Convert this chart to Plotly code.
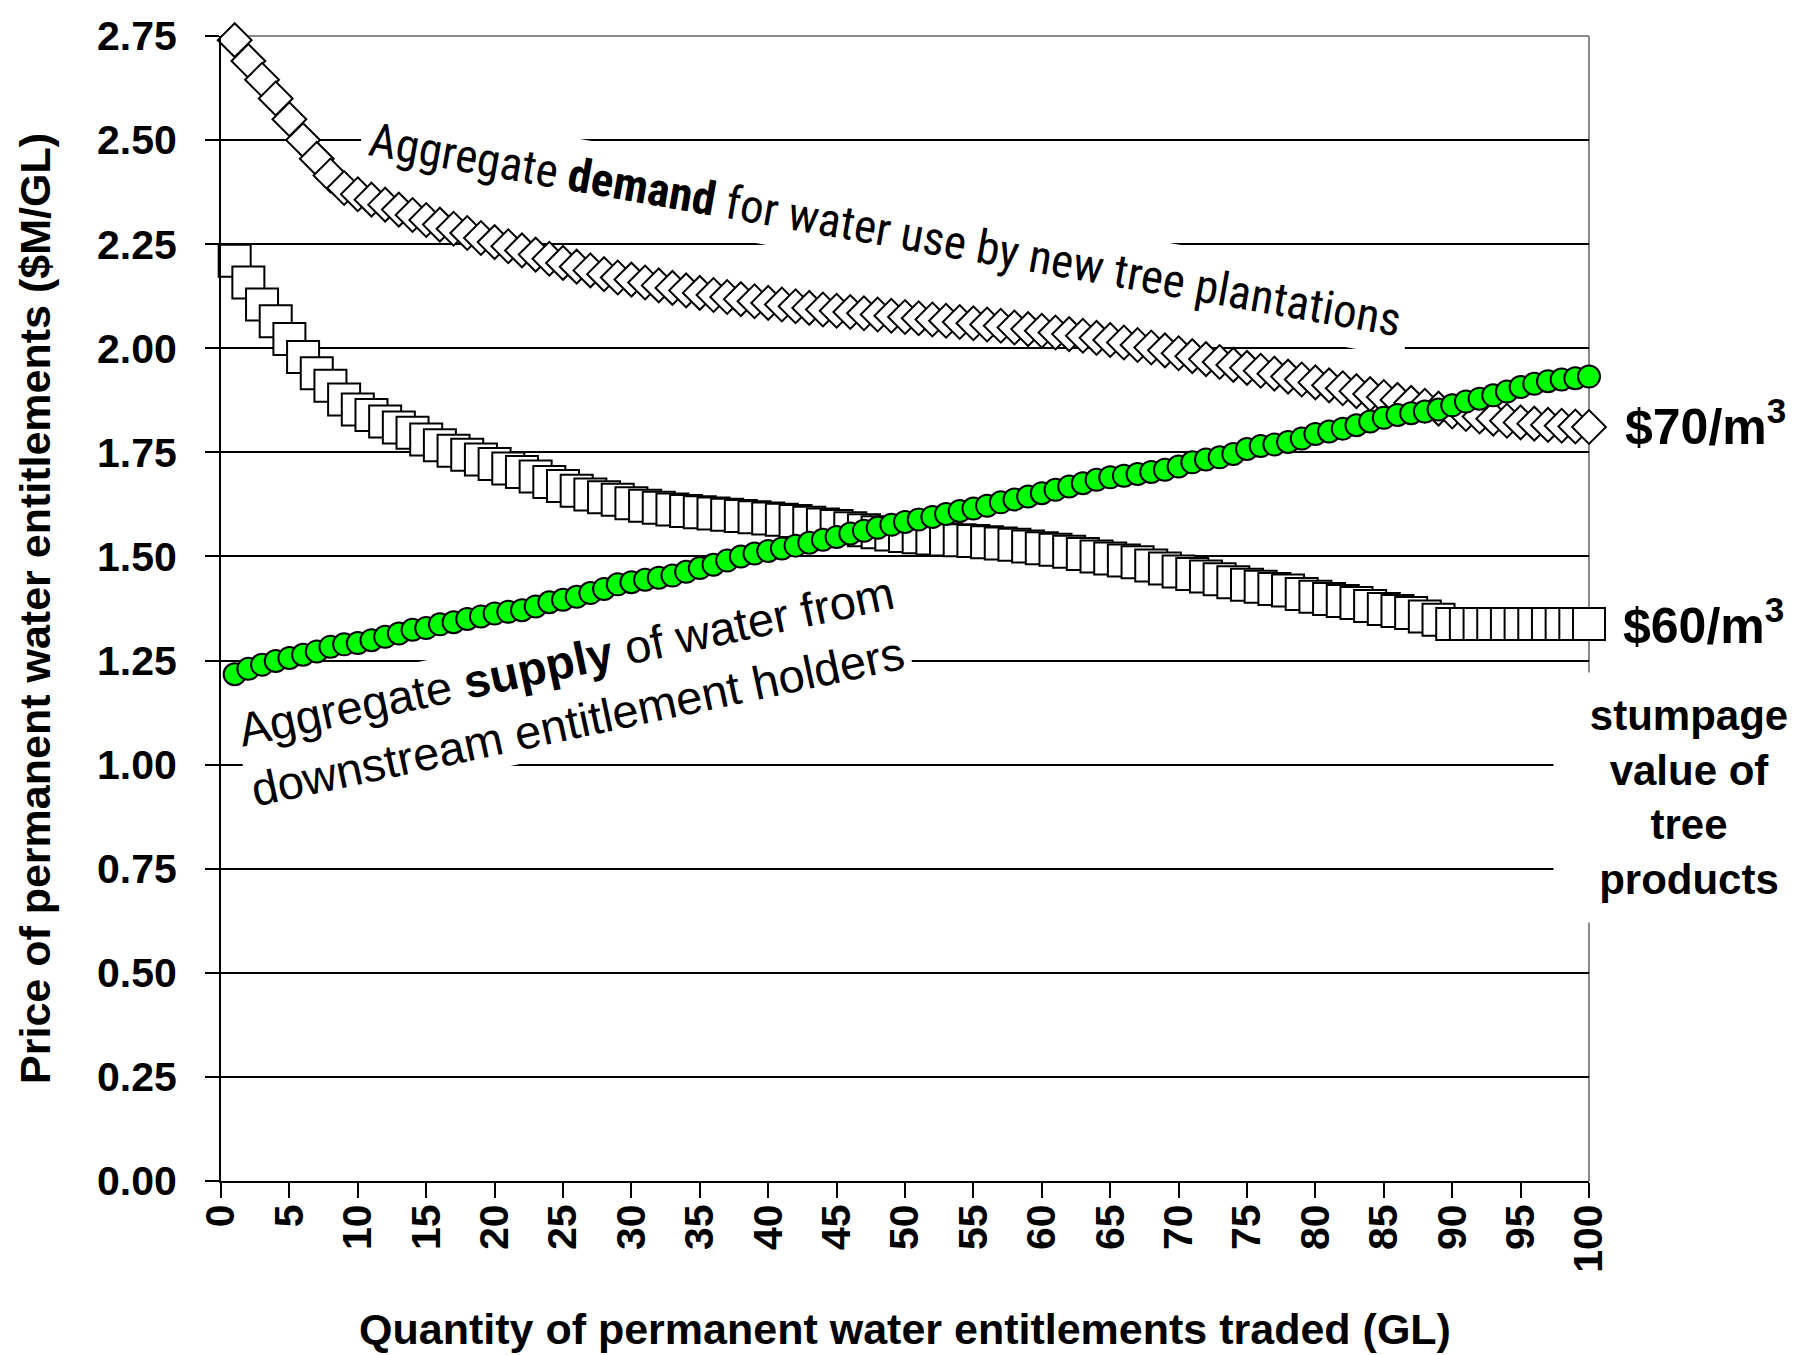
import plotly.graph_objects as go

quantity = list(range(1, 101))

demand_70 = [2.74, 2.69, 2.645, 2.60, 2.55, 2.50, 2.455, 2.415, 2.385, 2.37,
             2.357, 2.345, 2.333, 2.32, 2.308, 2.297, 2.287, 2.277, 2.265, 2.255,
             2.245, 2.235, 2.225, 2.215, 2.205, 2.196, 2.187, 2.178, 2.17, 2.165,
             2.158, 2.151, 2.145, 2.139, 2.133, 2.128, 2.123, 2.118, 2.113, 2.109,
             2.105, 2.101, 2.097, 2.093, 2.09, 2.087, 2.084, 2.081, 2.078, 2.075,
             2.072, 2.069, 2.066, 2.063, 2.06, 2.057, 2.054, 2.05, 2.046, 2.042,
             2.038, 2.034, 2.03, 2.025, 2.02, 2.014, 2.008, 2.002, 1.995, 1.988,
             1.981, 1.974, 1.967, 1.96, 1.953, 1.946, 1.939, 1.932, 1.925, 1.918,
             1.911, 1.904, 1.897, 1.89, 1.883, 1.876, 1.869, 1.862, 1.855, 1.848,
             1.842, 1.836, 1.831, 1.826, 1.822, 1.819, 1.816, 1.814, 1.812, 1.811]

demand_60 = [2.21, 2.158, 2.105, 2.065, 2.022, 1.979, 1.94, 1.91, 1.877, 1.853,
             1.84, 1.824, 1.81, 1.797, 1.781, 1.767, 1.754, 1.744, 1.733, 1.722,
             1.711, 1.703, 1.692, 1.679, 1.669, 1.658, 1.649, 1.642, 1.636, 1.628,
             1.622, 1.617, 1.613, 1.609, 1.606, 1.603, 1.6, 1.597, 1.594, 1.591,
             1.588, 1.585, 1.581, 1.577, 1.573, 1.568, 1.563, 1.558, 1.553, 1.549,
             1.546, 1.543, 1.541, 1.539, 1.537, 1.534, 1.531, 1.528, 1.524, 1.52,
             1.516, 1.511, 1.506, 1.5, 1.495, 1.49, 1.486, 1.478, 1.471, 1.464,
             1.458, 1.452, 1.445, 1.438, 1.432, 1.427, 1.422, 1.418, 1.41, 1.403,
             1.398, 1.393, 1.388, 1.381, 1.374, 1.369, 1.364, 1.356, 1.348, 1.338,
             1.338, 1.338, 1.338, 1.338, 1.338, 1.338, 1.338, 1.338, 1.338, 1.338]

supply = [1.217, 1.23, 1.24, 1.249, 1.256, 1.264, 1.272, 1.283, 1.289, 1.292,
          1.299, 1.307, 1.315, 1.324, 1.328, 1.337, 1.342, 1.35, 1.356, 1.363,
          1.367, 1.371, 1.38, 1.39, 1.396, 1.403, 1.412, 1.422, 1.433, 1.438,
          1.444, 1.449, 1.454, 1.463, 1.472, 1.48, 1.49, 1.5, 1.507, 1.513,
          1.519, 1.526, 1.533, 1.54, 1.547, 1.555, 1.562, 1.569, 1.576, 1.583,
          1.589, 1.595, 1.602, 1.609, 1.615, 1.622, 1.63, 1.637, 1.644, 1.652,
          1.66, 1.668, 1.676, 1.684, 1.69, 1.694, 1.698, 1.703, 1.708, 1.716,
          1.726, 1.733, 1.738, 1.746, 1.758, 1.765, 1.769, 1.775, 1.783, 1.794,
          1.8, 1.807, 1.815, 1.824, 1.833, 1.84, 1.844, 1.848, 1.853, 1.863,
          1.872, 1.879, 1.887, 1.896, 1.907, 1.915, 1.921, 1.925, 1.928, 1.932]

x_ticks = list(range(0, 101, 5))
y_ticks = [0, 0.25, 0.5, 0.75, 1.0, 1.25, 1.5, 1.75, 2.0, 2.25, 2.5, 2.75]

FONT = "Liberation Sans, Arial, sans-serif"
NARROW = "Roboto Condensed, Liberation Sans Narrow, Arial Narrow, Liberation Sans, sans-serif"

fig = go.Figure()
fig.add_trace(go.Scatter(x=quantity, y=demand_70, mode="markers", cliponaxis=False,
                         marker=dict(symbol="diamond", size=26, color="white",
                                     line=dict(color="black", width=2)),
                         showlegend=False))
fig.add_trace(go.Scatter(x=quantity, y=demand_60, mode="markers", cliponaxis=False,
                         marker=dict(symbol="square", size=32, color="white",
                                     line=dict(color="black", width=2)),
                         showlegend=False))
fig.add_trace(go.Scatter(x=quantity, y=supply, mode="markers", cliponaxis=False,
                         marker=dict(symbol="circle", size=22, color="#00ff00",
                                     line=dict(color="black", width=2)),
                         showlegend=False))

fig.update_layout(
    width=1806, height=1355,
    margin=dict(l=213, r=225, t=28, b=182, autoexpand=False),
    plot_bgcolor="white", paper_bgcolor="white",
    font=dict(family=FONT, color="black"),
    xaxis=dict(range=[0, 100], tickvals=x_ticks, ticks="outside", ticklen=15,
               tickwidth=2, tickcolor="black", tickangle=-90,
               tickfont=dict(size=41, family=FONT, weight="bold"),
               ticklabelstandoff=-10,
               showline=True, linecolor="black", linewidth=2,
               showgrid=False, zeroline=False, automargin=False,
               title=dict(text="Quantity of permanent water entitlements traded (GL)",
                          font=dict(size=43, family=FONT, weight="bold"), standoff=42)),
    xaxis2=dict(range=[0, 100], overlaying="x", anchor="y", side="bottom",
                dtick=1, tick0=0, ticks="inside", ticklen=8, tickwidth=2,
                tickcolor="black", showticklabels=False, showgrid=False,
                zeroline=False, showline=False),
    yaxis=dict(range=[0, 2.75], tickvals=y_ticks, tickformat=".2f",
               ticks="outside", ticklen=14, tickwidth=2, tickcolor="black",
               tickfont=dict(size=41, family=FONT, weight="bold"),
               ticklabelstandoff=20,
               showline=True, linecolor="black", linewidth=2,
               showgrid=True, gridcolor="black", gridwidth=2,
               zeroline=False, automargin=False,
               title=dict(text="Price of permanent water entitlements ($M/GL)",
                          font=dict(size=43, family=FONT, weight="bold"), standoff=33)),
    shapes=[
        dict(type="line", xref="paper", yref="paper", x0=0, x1=1, y0=1, y1=1,
             line=dict(color="#8a8a8a", width=2), layer="between"),
        dict(type="line", xref="paper", yref="paper", x0=1, x1=1, y0=0, y1=1,
             line=dict(color="#8a8a8a", width=2), layer="between"),
    ],
    annotations=[
        dict(text="Aggregate <b>demand</b> for water use by new tree plantations",
             x=48.6, y=2.285, xref="x", yref="y", showarrow=False, textangle=10,
             font=dict(size=47, family=NARROW), bgcolor="white", borderpad=8),
        dict(text="Aggregate <b>supply</b> of water from<br>downstream entitlement holders",
             x=25.7, y=1.1775, xref="x", yref="y", showarrow=False, textangle=-12,
             align="left", font=dict(size=47, family=FONT), bgcolor="white",
             borderpad=3),
        dict(text="$70/m<sup>3</sup>", x=1.025, y=1.82, xref="paper", yref="y",
             xanchor="left", showarrow=False,
             font=dict(size=50, family=FONT, weight="bold")),
        dict(text="$60/m<sup>3</sup>", x=1.0234, y=1.343, xref="paper", yref="y",
             xanchor="left", showarrow=False,
             font=dict(size=50, family=FONT, weight="bold")),
        dict(text="stumpage<br>value of<br>tree<br>products", x=1.073, y=0.92,
             xref="paper", yref="y", xanchor="center", yanchor="middle",
             showarrow=False, width=268, height=247,
             font=dict(size=42, family=FONT, weight="bold"), bgcolor="white"),
    ],
)

fig.write_html("out.html")
